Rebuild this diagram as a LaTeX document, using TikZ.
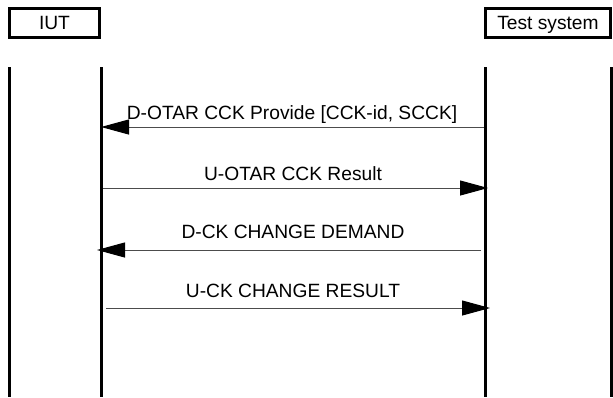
\documentclass[tikz,border=0pt]{standalone}
\usepackage{fontspec}
\setmainfont{Liberation Sans}
\usetikzlibrary{arrows.meta}
\begin{document}
\begin{tikzpicture}[x=1pt,y=1pt,
  entity/.style={draw=black,line width=3pt,minimum height=29pt,inner sep=0pt,
    font=\fontsize{19.2}{23}\selectfont,text height=13.7pt,text depth=0pt},
  lifeline/.style={line width=3pt,black},
  msg/.style={line width=1pt,black!70,-{Triangle[length=28pt,width=15pt,color=black]}},
  msglabel/.style={anchor=base,inner sep=0pt,font=\fontsize{19.2}{23}\selectfont}]
\useasboundingbox[fill=white] (0,0) rectangle (613,-397);
% entity boxes
\node[entity,minimum width=90pt] (iut) at (54.5,-23) {IUT};
\node[entity,minimum width=125pt] (ts) at (548,-23) {Test system};
% lifelines
\coordinate (l1t) at (9,-67);   \coordinate (l1b) at (9,-397);
\coordinate (l2t) at (101,-67); \coordinate (l2b) at (101,-397);
\coordinate (l3t) at (485,-67); \coordinate (l3b) at (485,-397);
\coordinate (l4t) at (611,-67); \coordinate (l4b) at (611,-397);
\draw[lifeline] (l1t) -- (l1b);
\draw[lifeline] (l2t) -- (l2b);
\draw[lifeline] (l3t) -- (l3b);
\draw[lifeline] (l4t) -- (l4b);
% message end points
\coordinate (m1s) at (484,-127); \coordinate (m1e) at (101,-127);
\coordinate (m2s) at (103,-188); \coordinate (m2e) at (488,-188);
\coordinate (m3s) at (481,-250); \coordinate (m3e) at (97,-250);
\coordinate (m4s) at (106,-308); \coordinate (m4e) at (490,-308);
\draw[msg] (m1s) -- (m1e);
\draw[msg] (m2s) -- (m2e);
\draw[msg] (m3s) -- (m3e);
\draw[msg] (m4s) -- (m4e);
% labels
\node[msglabel] (t1) at (292,-119) {D-OTAR CCK Provide [CCK-id, SCCK]};
\node[msglabel] (t2) at (293,-180) {U-OTAR CCK Result};
\node[msglabel] (t3) at (293,-238) {D-CK CHANGE DEMAND};
\node[msglabel] (t4) at (293,-297) {U-CK CHANGE RESULT};
\end{tikzpicture}
\end{document}
